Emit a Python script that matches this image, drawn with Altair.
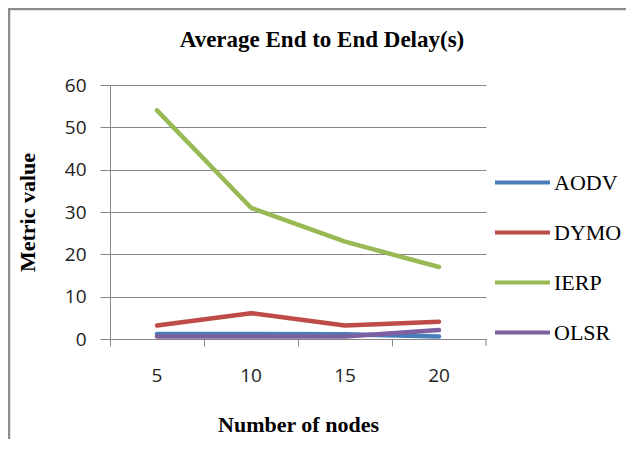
import altair as alt
import pandas as pd

nodes = ["5", "10", "15", "20"]
series = ["AODV", "DYMO", "IERP", "OLSR"]
aodv = [1.2, 1.2, 1.1, 0.6]
dymo = [3.2, 6.1, 3.2, 4.1]
ierp = [54, 31, 23, 17]
olsr = [0.6, 0.6, 0.6, 2.1]
colors = ["#4A7EBB", "#BE4B48", "#98B954", "#7D60A0"]

rows = []
for name, vals in zip(series, [aodv, dymo, ierp, olsr]):
    for n, v in zip(nodes, vals):
        rows.append({"nodes": n, "value": v, "series": name})
df = pd.DataFrame(rows)

W, H = 376, 254
grid = "#878787"
serif = "Liberation Serif"

lines = alt.Chart(df).mark_line(strokeWidth=4.5, strokeCap="round", strokeJoin="round").encode(
    x=alt.X("nodes:N", sort=nodes,
            scale=alt.Scale(type="band", paddingInner=0, paddingOuter=0),
            axis=alt.Axis(title="Number of nodes", labelAngle=0, bandPosition=0,
                          labelFont="Open Sans", labelFontSize=19, labelColor="#222222",
                          labelPadding=20, tickSize=7, tickColor=grid, domainColor=grid,
                          grid=False, titleFont=serif, titleFontSize=22, titleFontWeight="bold",
                          titleColor="black", titleX=W / 2, titleY=85, titleBaseline="middle",
                          titleAlign="center")),
    y=alt.Y("value:Q", scale=alt.Scale(domain=[0, 60], nice=False),
            axis=alt.Axis(title="Metric value", values=[0, 10, 20, 30, 40, 50, 60],
                          labelFont="Open Sans", labelFontSize=19, labelColor="#222222",
                          labelPadding=14, tickSize=10, tickColor=grid, domainColor=grid,
                          gridColor=grid, gridOpacity=1, titleFont=serif, titleFontSize=22,
                          titleFontWeight="bold", titleColor="black", titleX=-83, titleY=H / 2,
                          titleAngle=-90, titleAlign="center", titleBaseline="middle")),
    color=alt.Color("series:N", sort=series,
                    scale=alt.Scale(domain=series, range=colors),
                    legend=alt.Legend(title=None, orient="none", legendX=383, legendY=68,
                                      symbolType="stroke", symbolSize=3025, symbolStrokeWidth=4,
                                      labelFont=serif, labelFontSize=22, labelColor="black",
                                      rowPadding=9, labelOffset=2)),
    order=alt.Order("series:N"),
)

border = alt.Chart(pd.DataFrame({"a": [0]})).mark_rect(
    fill=None, stroke="#8c8c8c", strokeWidth=2.5
).encode(x=alt.value(-101), x2=alt.value(2000), y=alt.value(-76), y2=alt.value(2000))

endtick = alt.Chart(pd.DataFrame({"a": [0]})).mark_rule(color=grid).encode(
    x=alt.value(W), y=alt.value(H), y2=alt.value(H + 7))

chart = alt.layer(border, lines, endtick).properties(
    width=W, height=H,
    autosize=alt.AutoSizeParams(type="none"),
    padding={"left": 102, "top": 77, "right": 140, "bottom": 100},
    title=alt.TitleParams("Average End to End Delay(s)", font=serif, fontSize=23,
                          fontWeight="bold", color="black", anchor="middle", dx=24, dy=44,
                          offset=0),
).configure_view(stroke=None)

chart.save("out.html", embed_options={"renderer": "svg", "actions": False})
